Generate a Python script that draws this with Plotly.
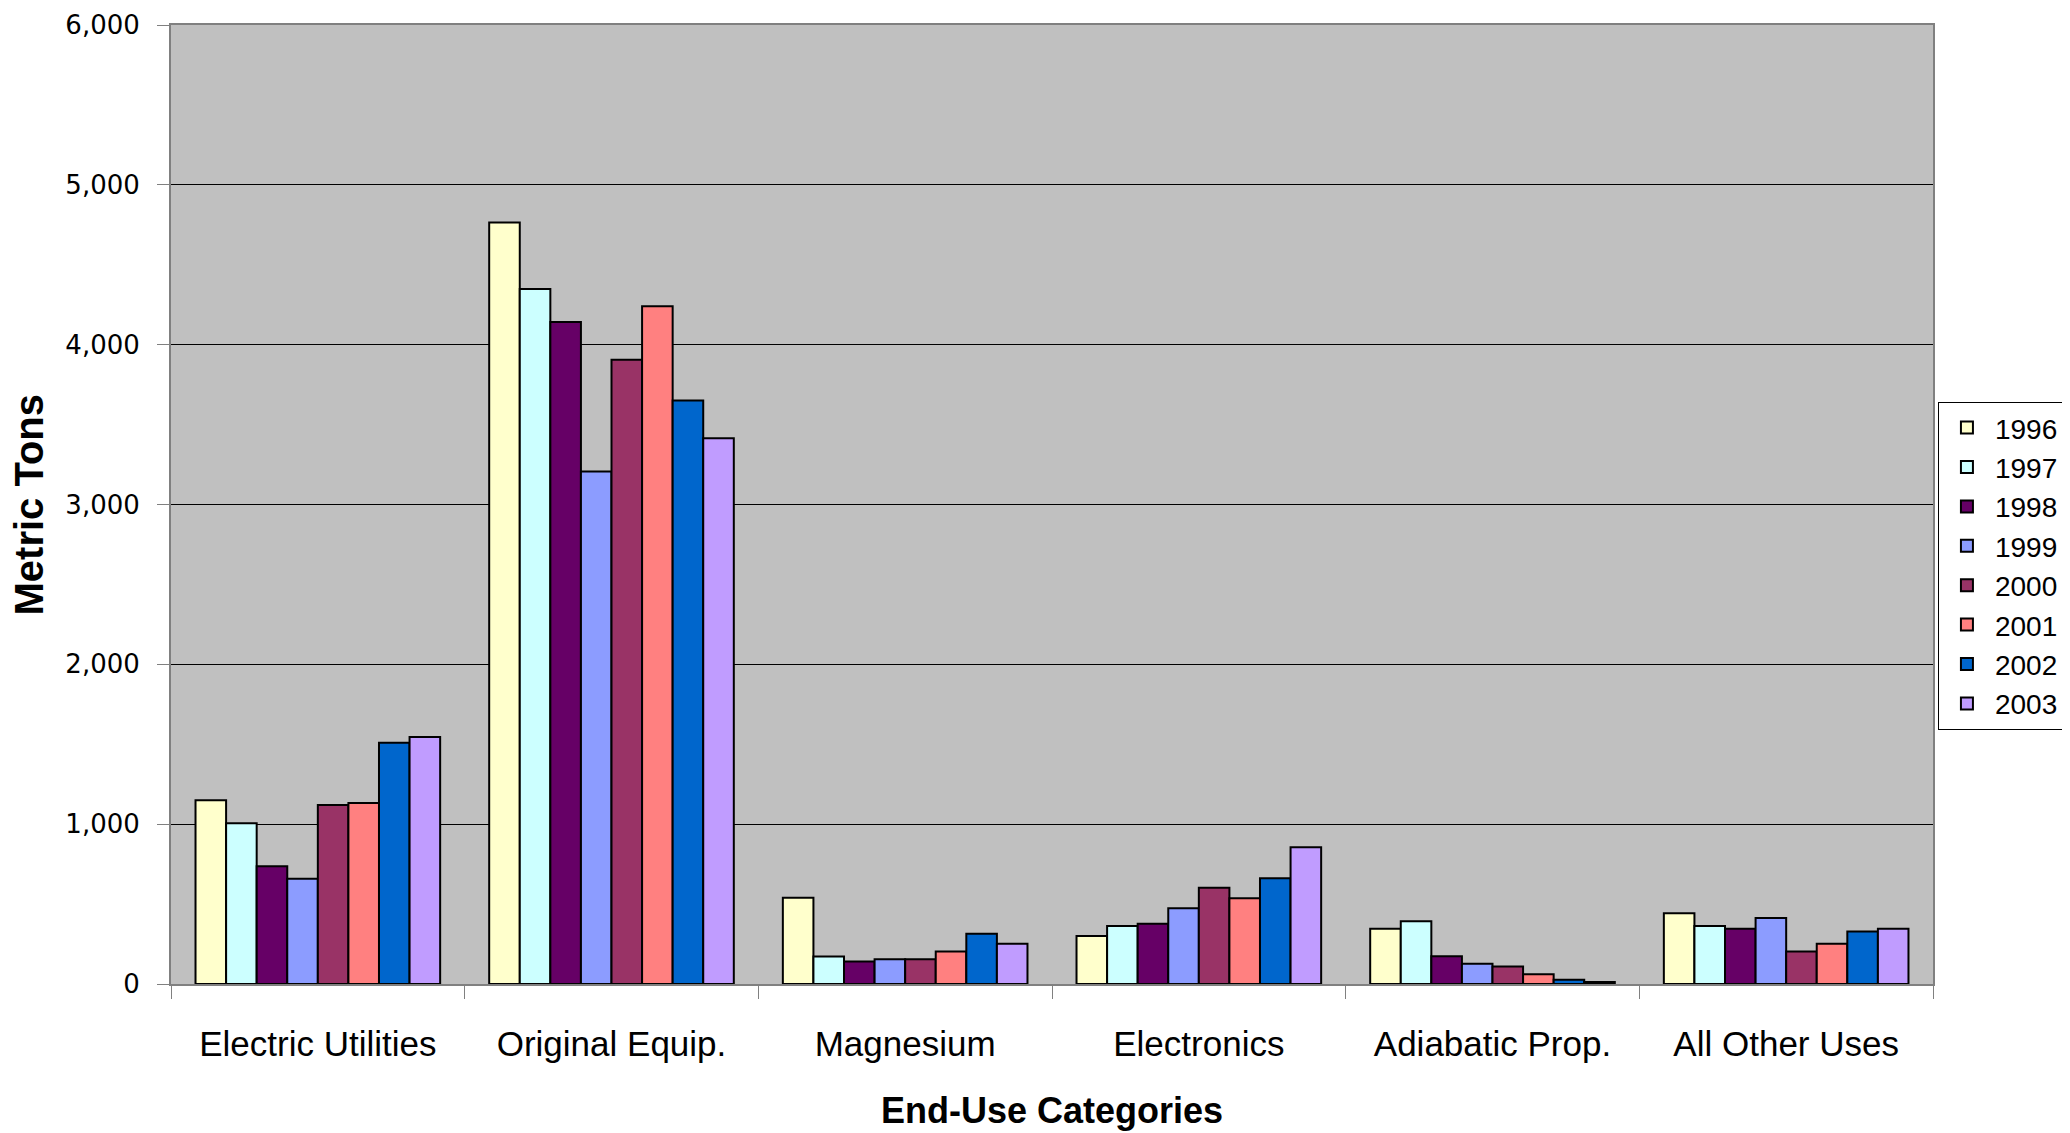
import plotly.graph_objects as go

categories = ["Electric Utilities", "Original Equip.", "Magnesium", "Electronics", "Adiabatic Prop.", "All Other Uses"]
years = ["1996", "1997", "1998", "1999", "2000", "2001", "2002", "2003"]

v1996 = [1150, 4765, 540, 300, 346, 442]
v1997 = [1005, 4348, 172, 363, 392, 363]
v1998 = [737, 4142, 140, 377, 174, 346]
v1999 = [658, 3206, 155, 474, 126, 413]
v2000 = [1120, 3906, 155, 602, 109, 203]
v2001 = [1133, 4240, 203, 537, 61, 252]
v2002 = [1510, 3651, 314, 662, 27, 329]
v2003 = [1545, 3415, 252, 855, 13, 346]

series = [v1996, v1997, v1998, v1999, v2000, v2001, v2002, v2003]
colors = ["#FFFFCC", "#CCFFFF", "#660066", "#8C9CFF", "#993366", "#FF8080", "#0066CC", "#C09CFF"]

fig = go.Figure()
for yr, vals, col in zip(years, series, colors):
    fig.add_trace(go.Bar(
        name=yr, x=categories, y=vals,
        marker=dict(color=col, line=dict(color="black", width=2)),
    ))

sans = "Liberation Sans, Arial, sans-serif"

fig.update_layout(
    width=2070, height=1133,
    margin=dict(l=163, r=145, t=17, b=157, autoexpand=False),
    paper_bgcolor="white",
    plot_bgcolor="#C0C0C0",
    barmode="group",
    bargap=0.167,
    bargroupgap=0,
    showlegend=True,
    legend=dict(
        x=1.0028, y=0.607, xanchor="left", yanchor="top",
        bgcolor="white", bordercolor="black", borderwidth=1,
        font=dict(family=sans, size=28, color="black"),
        itemwidth=46,
    ),
    xaxis=dict(
        type="category",
        automargin=False,
        tickson="boundaries",
        ticks="outside", ticklen=13, tickcolor="#808080", tickwidth=1,
        showline=True, linecolor="#808080", linewidth=2, mirror=True,
        showgrid=False,
        tickfont=dict(family=sans, size=35, color="black"),
        ticklabelstandoff=28,
    ),
    yaxis=dict(
        automargin=False,
        range=[0, 6000],
        tickvals=[0, 1000, 2000, 3000, 4000, 5000, 6000],
        tickformat=",",
        ticks="outside", ticklen=12, tickcolor="#808080", tickwidth=1,
        showline=True, linecolor="#808080", linewidth=2, mirror=True,
        showgrid=True, gridcolor="black", gridwidth=1,
        zeroline=False,
        tickfont=dict(family="DejaVu Sans", size=26, color="black"),
        ticklabelstandoff=12,
    ),
    annotations=[
        dict(text="<b>Metric Tons</b>", xref="paper", yref="paper",
             x=-0.0806, y=0.5, xanchor="center", yanchor="middle",
             textangle=-90, showarrow=False,
             font=dict(family=sans, size=40, color="black")),
        dict(text="<b>End-Use Categories</b>", xref="paper", yref="paper",
             x=0.5, y=-0.1314, xanchor="center", yanchor="middle",
             showarrow=False,
             font=dict(family=sans, size=36, color="black")),
    ],
)

fig.write_html("out.html")
